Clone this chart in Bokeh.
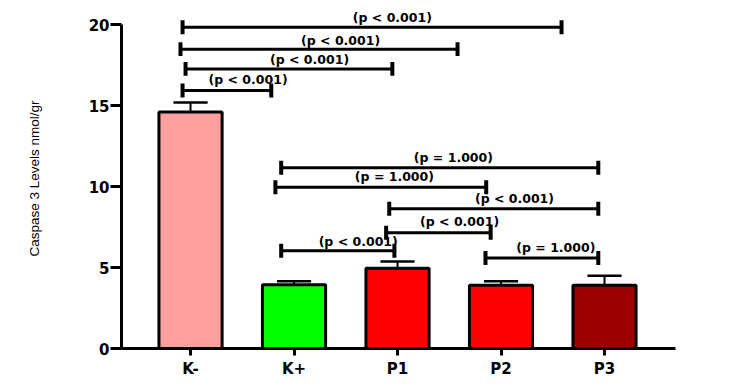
from bokeh.plotting import figure
from bokeh.models import Range1d, FixedTicker, ColumnDataSource
from bokeh.core.properties import value
from bokeh.embed import file_html
from bokeh.resources import INLINE

# ---- data ----
categories = ["K-", "K+", "P1", "P2", "P3"]
means = [14.6, 3.94, 4.96, 3.9, 3.9]
errors = [0.6, 0.21, 0.41, 0.26, 0.6]
bar_colors = ["#FF9F9F", "#00FF00", "#FF0000", "#FF0000", "#9E0000"]
yticks = [0, 5, 10, 15, 20]

# significance brackets (x in category-index units, y in data units)
br_x0 = [-0.077, -0.097, -0.048, -0.077, 0.876, 0.82, 1.92, 1.89, 0.876, 2.85]
br_x1 = [3.585, 2.58, 1.95, 0.78, 3.94, 2.857, 3.94, 2.90, 1.97, 3.94]
br_y = [19.84, 18.49, 17.27, 15.93, 11.16, 9.96, 8.63, 7.15, 6.04, 5.59]
br_text = ["(p < 0.001)", "(p < 0.001)", "(p < 0.001)", "(p < 0.001)",
           "(p = 1.000)", "(p = 1.000)", "(p < 0.001)", "(p < 0.001)",
           "(p < 0.001)", "(p = 1.000)"]
lab_x = [1.95, 1.45, 1.15, 0.556, 2.54, 1.97, 3.13, 2.60, 1.62, 3.53]
lab_y = [20.43, 19.04, 17.88, 16.6, 11.79, 10.63, 9.24, 7.82, 6.6, 6.24]

# ---- figure ----
xs = list(range(len(categories)))
p = figure(width=728, height=380, output_backend="svg", toolbar_location=None,
           x_range=Range1d(-0.667, 4.686), y_range=Range1d(0, 21.0),
           min_border_left=121, min_border_right=53, min_border_top=8,
           min_border_bottom=28)
p.outline_line_color = None
p.xgrid.visible = False
p.ygrid.visible = False
p.background_fill_color = "white"

bars = ColumnDataSource(dict(x=xs, top=means, color=bar_colors,
                             err_top=[m + e for m, e in zip(means, errors)]))

# error bars (upper only)
cap_half = 0.165
p.segment(x0="x", y0="top", x1="x", y1="err_top", source=bars,
          line_color="black", line_width=2)
p.segment(x0=[x - cap_half for x in xs], y0=bars.data["err_top"],
          x1=[x + cap_half for x in xs], y1=bars.data["err_top"],
          line_color="black", line_width=2.5)

p.vbar(x="x", top="top", width=0.61, bottom=0, source=bars,
       fill_color="color", line_color="black", line_width=3)

# brackets
tick_h = 0.43
p.segment(x0=br_x0, y0=br_y, x1=br_x1, y1=br_y, line_color="black", line_width=3)
p.segment(x0=br_x0, y0=[y - tick_h for y in br_y], x1=br_x0,
          y1=[y + tick_h for y in br_y], line_color="black", line_width=4)
p.segment(x0=br_x1, y0=[y - tick_h for y in br_y], x1=br_x1,
          y1=[y + tick_h for y in br_y], line_color="black", line_width=4)
p.text(x=lab_x, y=lab_y, text=br_text, text_align="center",
       text_baseline="middle", text_font=value("DejaVu Sans"),
       text_font_style="bold", text_font_size="12.5px", text_color="black")

# axes
p.xaxis.ticker = FixedTicker(ticks=xs)
p.xaxis.major_label_overrides = {x: c for x, c in zip(xs, categories)}
p.xaxis.major_tick_out = 7
p.xaxis.major_tick_in = 0
p.xaxis.minor_tick_line_color = None
p.xaxis.axis_line_width = 3
p.xaxis.major_tick_line_width = 3
p.xaxis.major_label_standoff = 4
p.xaxis.major_label_text_font = "DejaVu Sans"
p.xaxis.major_label_text_font_style = "bold"
p.xaxis.major_label_text_font_size = "15px"
p.xaxis.major_label_text_color = "black"

p.yaxis.ticker = FixedTicker(ticks=yticks)
p.yaxis.bounds = (0, 20)
p.yaxis.major_tick_out = 11
p.yaxis.major_tick_in = 0
p.yaxis.minor_tick_line_color = None
p.yaxis.axis_line_width = 3
p.yaxis.major_tick_line_width = 3
p.yaxis.major_label_standoff = 1
p.yaxis.major_label_text_font = "DejaVu Sans"
p.yaxis.major_label_text_font_style = "bold"
p.yaxis.major_label_text_font_size = "15px"
p.yaxis.major_label_text_color = "black"
p.yaxis.axis_label = "Caspase 3 Levels nmol/gr"
p.yaxis.axis_label_text_font = "Liberation Sans"
p.yaxis.axis_label_text_font_style = "normal"
p.yaxis.axis_label_text_font_size = "13.5px"
p.yaxis.axis_label_text_color = "black"
p.yaxis.axis_label_standoff = 44

open("out.html", "w").write(file_html(p, INLINE))
